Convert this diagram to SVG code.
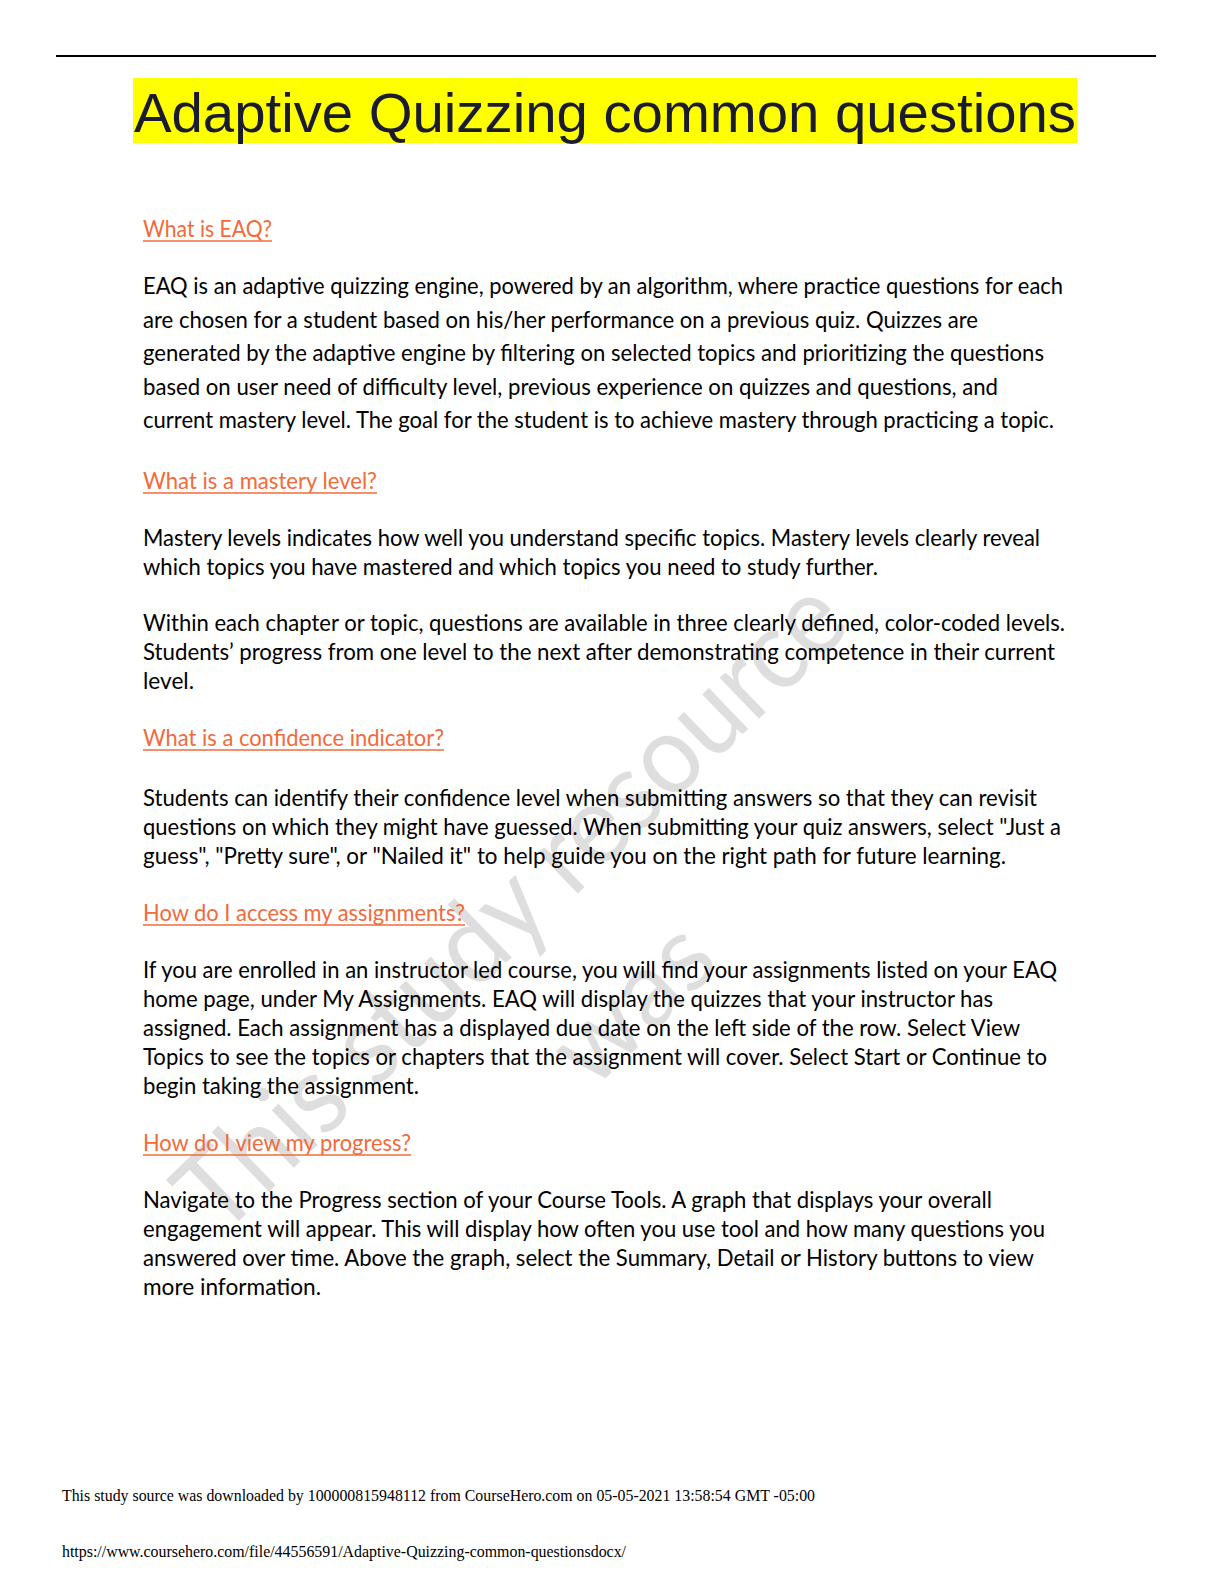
<svg xmlns="http://www.w3.org/2000/svg" width="1224" height="1584" viewBox="0 0 1224 1584">
<style>
.b{font-family:Lato,"Noto Sans","Liberation Sans",sans-serif;font-size:23px;fill:#000}
.h{font-family:Lato,"Noto Sans","Liberation Sans",sans-serif;font-size:23px;fill:#F36A3B}
.u{stroke:#F36A3B;stroke-width:1.6}
.f{font-family:"Liberation Serif","Times New Roman",serif;font-size:16.5px;fill:#000}
.wm{font-family:Lato,"Noto Sans","Liberation Sans",sans-serif;font-size:112px;fill:#dedede}
</style>
<rect width="1224" height="1584" fill="#fff"/>
<g id="watermark" transform="translate(537,933) rotate(-44)">
<text class="wm" x="0" y="0" text-anchor="middle" textLength="880" lengthAdjust="spacingAndGlyphs">This study resource</text>
<text class="wm" x="20" y="152" text-anchor="middle" style="font-size:106px">was</text>
</g>
<line x1="56" y1="56" x2="1156" y2="56" stroke="#000" stroke-width="2"/>
<g id="title">
<rect x="133" y="78" width="944" height="65" fill="#ffff00"/>
<text x="134" y="132" font-family="'Liberation Sans',Arial,sans-serif" font-size="56" fill="#1b1b2f" textLength="942" lengthAdjust="spacingAndGlyphs">Adaptive Quizzing common questions</text>
</g>
<g id="q1">
<text class="h" x="143" y="237" textLength="129" lengthAdjust="spacingAndGlyphs">What is EAQ?</text>
<line class="u" x1="143" y1="241" x2="272" y2="241"/>
<text class="b" x="143" y="294" textLength="920" lengthAdjust="spacingAndGlyphs">EAQ is an adaptive quizzing engine, powered by an algorithm, where practice questions for each</text>
<text class="b" x="143" y="327.5" textLength="835" lengthAdjust="spacingAndGlyphs">are chosen for a student based on his/her performance on a previous quiz. Quizzes are</text>
<text class="b" x="143" y="361" textLength="901" lengthAdjust="spacingAndGlyphs">generated by the adaptive engine by filtering on selected topics and prioritizing the questions</text>
<text class="b" x="143" y="394.5" textLength="855" lengthAdjust="spacingAndGlyphs">based on user need of difficulty level, previous experience on quizzes and questions, and</text>
<text class="b" x="143" y="428" textLength="911" lengthAdjust="spacingAndGlyphs">current mastery level. The goal for the student is to achieve mastery through practicing a topic.</text>
</g>
<g id="q2">
<text class="h" x="143" y="489" textLength="234" lengthAdjust="spacingAndGlyphs">What is a mastery level?</text>
<line class="u" x1="143" y1="493" x2="377" y2="493"/>
<text class="b" x="143" y="546" textLength="897" lengthAdjust="spacingAndGlyphs">Mastery levels indicates how well you understand specific topics. Mastery levels clearly reveal</text>
<text class="b" x="143" y="575" textLength="735" lengthAdjust="spacingAndGlyphs">which topics you have mastered and which topics you need to study further.</text>
<text class="b" x="143" y="631" textLength="922" lengthAdjust="spacingAndGlyphs">Within each chapter or topic, questions are available in three clearly defined, color-coded levels.</text>
<text class="b" x="143" y="660" textLength="912" lengthAdjust="spacingAndGlyphs">Students’ progress from one level to the next after demonstrating competence in their current</text>
<text class="b" x="143" y="689" textLength="51" lengthAdjust="spacingAndGlyphs">level.</text>
</g>
<g id="q3">
<text class="h" x="143" y="746" textLength="301" lengthAdjust="spacingAndGlyphs">What is a confidence indicator?</text>
<line class="u" x1="143" y1="750" x2="444" y2="750"/>
<text class="b" x="143" y="806" textLength="894" lengthAdjust="spacingAndGlyphs">Students can identify their confidence level when submitting answers so that they can revisit</text>
<text class="b" x="143" y="835" textLength="918" lengthAdjust="spacingAndGlyphs">questions on which they might have guessed. When submitting your quiz answers, select "Just a</text>
<text class="b" x="143" y="864" textLength="863" lengthAdjust="spacingAndGlyphs">guess", "Pretty sure", or "Nailed it" to help guide you on the right path for future learning.</text>
</g>
<g id="q4">
<text class="h" x="143" y="921" textLength="322" lengthAdjust="spacingAndGlyphs">How do I access my assignments?</text>
<line class="u" x1="143" y1="925" x2="465" y2="925"/>
<text class="b" x="143" y="978" textLength="914" lengthAdjust="spacingAndGlyphs">If you are enrolled in an instructor led course, you will find your assignments listed on your EAQ</text>
<text class="b" x="143" y="1007" textLength="850" lengthAdjust="spacingAndGlyphs">home page, under My Assignments. EAQ will display the quizzes that your instructor has</text>
<text class="b" x="143" y="1036" textLength="877" lengthAdjust="spacingAndGlyphs">assigned. Each assignment has a displayed due date on the left side of the row. Select View</text>
<text class="b" x="143" y="1065" textLength="904" lengthAdjust="spacingAndGlyphs">Topics to see the topics or chapters that the assignment will cover. Select Start or Continue to</text>
<text class="b" x="143" y="1094" textLength="276" lengthAdjust="spacingAndGlyphs">begin taking the assignment.</text>
</g>
<g id="q5">
<text class="h" x="143" y="1151" textLength="268" lengthAdjust="spacingAndGlyphs">How do I view my progress?</text>
<line class="u" x1="143" y1="1155" x2="411" y2="1155"/>
<text class="b" x="143" y="1208" textLength="849" lengthAdjust="spacingAndGlyphs">Navigate to the Progress section of your Course Tools. A graph that displays your overall</text>
<text class="b" x="143" y="1237" textLength="902" lengthAdjust="spacingAndGlyphs">engagement will appear. This will display how often you use tool and how many questions you</text>
<text class="b" x="143" y="1266" textLength="891" lengthAdjust="spacingAndGlyphs">answered over time. Above the graph, select the Summary, Detail or History buttons to view</text>
<text class="b" x="143" y="1295" textLength="178" lengthAdjust="spacingAndGlyphs">more information.</text>
</g>
<g id="footer">
<text class="f" x="62" y="1501" textLength="753" lengthAdjust="spacingAndGlyphs">This study source was downloaded by 100000815948112 from CourseHero.com on 05-05-2021 13:58:54 GMT -05:00</text>
<text class="f" x="62" y="1557" textLength="564" lengthAdjust="spacingAndGlyphs">https://www.coursehero.com/file/44556591/Adaptive-Quizzing-common-questionsdocx/</text>
</g>
</svg>
